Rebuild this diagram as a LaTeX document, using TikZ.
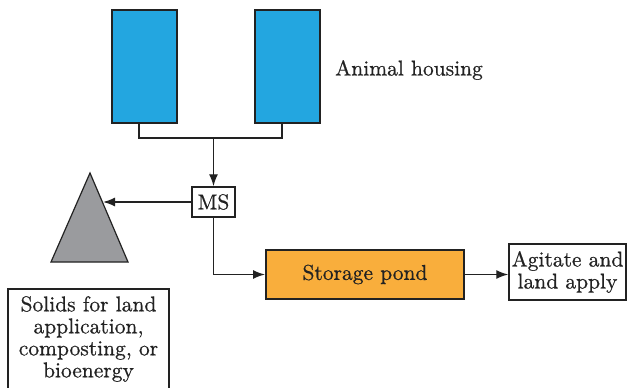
\documentclass[tikz,border=0pt]{standalone}
\usepackage{fontspec}
\setmainfont{lmroman10-regular}[Extension=.otf, FakeBold=0.6]
\usetikzlibrary{arrows.meta}
\definecolor{houseblue}{HTML}{23A6E0}
\definecolor{pondorange}{HTML}{F9AE3C}
\definecolor{pilegrey}{HTML}{9A9B9E}
\definecolor{ink}{HTML}{222222}
\begin{document}
\begin{tikzpicture}[x=1pt,y=-1pt,
  every node/.style={font=\fontsize{21.5}{22}\selectfont, text=ink, inner sep=0pt},
  house/.style={draw=ink, line width=2pt, fill=houseblue, minimum width=65pt, minimum height=113pt},
  plainbox/.style={draw=ink, line width=1.5pt, fill=white, align=center},
  pondbox/.style={draw=ink, line width=2pt, fill=pondorange, minimum width=198pt, minimum height=49pt},
  conn/.style={draw=ink, line width=1.4pt},
  flow/.style={conn, -{Latex[length=12pt,width=9pt]}}]
\useasboundingbox (0,0) rectangle (627,388);
\clip (0,0) rectangle (627,388);
\node[house] (h1) at (144.5,66.5) {};
\node[house] (h2) at (287.5,66.5) {};
\node[anchor=west] (lbl) at (335,70) {Animal housing};
\node[plainbox, minimum width=43pt, minimum height=30pt] (ms) at (213.5,202) {MS};
\node[pondbox] (pond) at (365,274.5) {Storage pond};
\node[plainbox, minimum width=117pt, minimum height=56pt] (ag) at (567.5,272) {Agitate and\\land apply};
\draw[fill=pilegrey, draw=ink, line width=1.2pt] (90,173) -- (128,262) -- (51,262) -- cycle;
\coordinate (pile) at (103,202);
\draw[ink, line width=1.5pt] (8,289) rectangle (169,400);
\node[align=center, anchor=north] (sol) at (88.5,296) {Solids for land\\application,\\composting, or\\bioenergy};
\coordinate (j1) at ([xshift=-5.5pt]h1.south);
\coordinate (j2) at ([xshift=-5.5pt]h2.south);
\coordinate (jm) at (213.5,138);
\draw[conn] (j1) |- (jm) -| (j2);
\draw[flow] (jm) -- (ms.north);
\draw[flow] (ms.west) -- (pile);
\draw[flow] (ms.south) |- (pond.west);
\draw[flow] (pond.east) -- (pond.east -| ag.west);
\end{tikzpicture}
\end{document}
